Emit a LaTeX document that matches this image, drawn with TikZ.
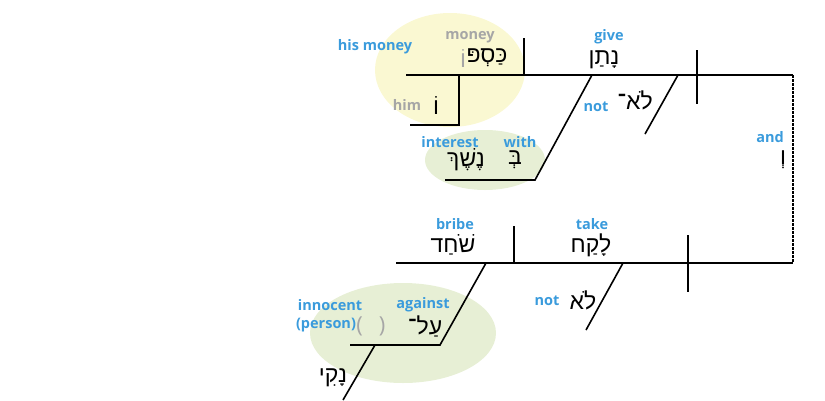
\documentclass[tikz,border=0pt]{standalone}
\usepackage{fontspec}
\setmainfont{Open Sans}
\newfontfamily\hebfont[Script=Hebrew]{Liberation Sans}
\TeXXeTstate=1
\newcommand{\heb}[1]{{\hebfont\fontsize{23}{25}\selectfont\beginR #1\endR}}
\definecolor{glossblue}{HTML}{3A9BDC}
\definecolor{glossgray}{HTML}{A6A6A6}
\definecolor{hiyellow}{HTML}{FAF8D2}
\definecolor{higreen}{HTML}{E7EFD5}
\tikzset{
  gloss/.style={font=\bfseries\fontsize{14.5}{16}\selectfont,text=glossblue,inner sep=0pt},
  ghost/.style={gloss,text=glossgray},
  word/.style={inner sep=0pt},
  rule/.style={line width=1.6pt}
}
\begin{document}
\begin{tikzpicture}[x=1pt,y=-1pt]
    \useasboundingbox (0,0) rectangle (825,400);
    %% highlights
    \fill[hiyellow] (450,70) ellipse (75 and 57);
    \fill[higreen] (485,160) ellipse (60 and 30);
    \fill[higreen] (403,333) ellipse (93 and 50);
    \begin{scope}[rule]
        %% top clause
        \coordinate (tl) at (406,75);
        \coordinate (tr) at (793,75);
        \coordinate (br) at (793,263);
        \coordinate (bl) at (396,263);
        \draw (tl) -- (tr);
        \draw (524,38) -- (524,75);
        \draw (697,50) -- (697,104);
        \draw (459,75) -- (459,125) -- (410,125);
        \draw (678,75) -- (645,134);
        \draw (592,75) -- (535,180) -- (445,180);
        %% conjunction
        \draw[line width=1.3pt,dash pattern=on 2.5pt off 1.5pt] (tr) -- (br);
        %% bottom clause
        \draw (bl) -- (br);
        \draw (514,226) -- (514,263);
        \draw (688,235) -- (688,292);
        \draw (623,263) -- (586,330);
        \draw (486,263) -- (440,345) -- (350,345);
        \draw (375,345) -- (343,400);
    \end{scope}
    %% top words
    \node[gloss] (hismoney) at (375,47) {his money};
    \node[ghost] (money) at (470,37) {money};
    \node[word] (kaspo) at (487,58) {\heb{כַּסְפּ}};
    \node[word,text=glossgray,anchor=east] (kaspovav) at (kaspo.west) {\heb{וֹ}};
    \node[ghost] (him) at (407,105) {him};
    \node[word] (vav) at (436,105) {\heb{וֹ}};
    \node[gloss] (give) at (609,37) {give};
    \node[word] (natan) at (604,60) {\heb{נָתַן}};
    \node[gloss] (not1) at (596,107) {not};
    \node[word] (lo1) at (635,100) {\heb{לֹא־}};
    \node[gloss] (interest) at (450,142) {interest};
    \node[gloss] (with) at (520,142) {with};
    \node[word] (be) at (515,160) {\heb{בְּ}};
    \node[word] (neshek) at (466,160) {\heb{נֶשֶׁךְ}};
    \node[gloss] (and) at (770,137) {and};
    \node[word] (ve) at (783,160) {\heb{וְ}};
    %% bottom words
    \node[gloss] (bribe) at (455,224) {bribe};
    \node[word] (shohad) at (453,245) {\heb{שֹׁחַד}};
    \node[gloss] (take) at (592,224) {take};
    \node[word] (laqah) at (591,245) {\heb{לָקַח}};
    \node[gloss] (not2) at (547,301) {not};
    \node[word] (lo2) at (583,300) {\heb{לֹא}};
    \node[gloss] (innocent) at (330,305) {innocent};
    \node[gloss] (person) at (326,325) {(person)};
    \node[text=glossgray,font=\fontsize{22}{24}\selectfont,inner sep=0pt] (gap) at (371,326) {(\hspace{16pt})};
    \node[gloss] (against) at (423,305) {against};
    \node[word] (al) at (425,326) {\heb{עַל־}};
    \node[word] (naqi) at (333,378) {\heb{נָקִי}};
\end{tikzpicture}
\end{document}
